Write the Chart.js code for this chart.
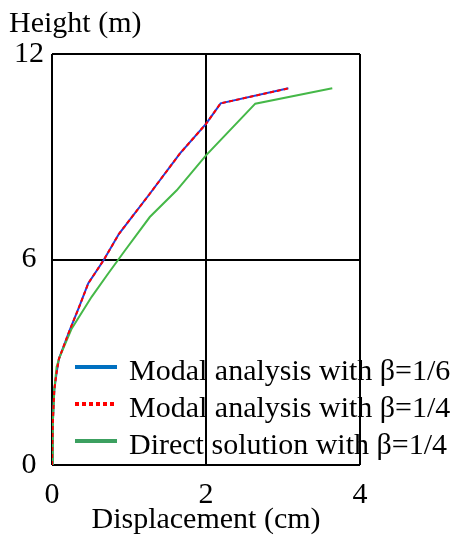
<!DOCTYPE html>
<html>
<head>
<meta charset="utf-8">
<title>Displacement profile</title>
<script src="https://cdn.jsdelivr.net/npm/chart.js@4/dist/chart.umd.min.js"></script>
<style>
  html, body { margin: 0; padding: 0; background: #fff; }
  #wrap { width: 453px; height: 538px; }
</style>
</head>
<body>
<div id="wrap"><canvas id="chart" width="453" height="538"></canvas></div>
<script>
// displacement (cm) against height (m)
const modal6X = [0, 0.01, 0.03, 0.06, 0.09, 0.23, 0.35, 0.47, 0.67, 0.87, 1.27, 1.66, 2.00, 2.19, 3.07];
const modal6Y = [0, 1.2, 2.2, 2.7, 3.1, 3.94, 4.6, 5.3, 5.98, 6.75, 7.92, 9.09, 9.96, 10.56, 11.0];
const modal4X = [0, 0.01, 0.03, 0.06, 0.09, 0.23, 0.35, 0.47, 0.67, 0.87, 1.27, 1.66, 2.00, 2.19, 3.08];
const modal4Y = [0, 1.2, 2.2, 2.7, 3.1, 3.94, 4.6, 5.3, 5.98, 6.75, 7.92, 9.09, 9.96, 10.56, 11.0];
const directX = [0, 0.01, 0.03, 0.06, 0.10, 0.255, 0.515, 0.73, 0.95, 1.27, 1.62, 2.00, 2.64, 3.64];
const directY = [0, 1.2, 2.2, 2.87, 3.16, 3.98, 4.91, 5.59, 6.27, 7.24, 8.02, 9.04, 10.55, 11.0];

const xTicks = [0, 2, 4];
const yTicks = [0, 6, 12];

const seriesNames = ['Modal analysis with β=1/6', 'Modal analysis with β=1/4', 'Direct solution with β=1/4'];
const seriesColors = ['#0070C0', '#FF0000', '#3CA060'];

const FONT = "'Liberation Serif', 'Times New Roman', serif";

function pts(xs, ys){ return xs.map((x, i) => ({ x: x, y: ys[i] })); }

// legend drawn inside the plot, overlapping the grid
const innerLegend = {
  id: 'innerLegend',
  afterDraw(chart){
    const ctx = chart.ctx;
    const a = chart.chartArea;
    const rows = [-98, -61, -24];
    ctx.save();
    ctx.font = '30px ' + FONT;
    ctx.fillStyle = '#000';
    ctx.textBaseline = 'alphabetic';
    chart.data.datasets.forEach((ds, i) => {
      const y = a.bottom + rows[i];
      ctx.beginPath();
      ctx.strokeStyle = ds.legendColor;
      ctx.lineWidth = 4;
      ctx.setLineDash(ds.borderDash || []);
      ctx.moveTo(a.left + 23, y);
      ctx.lineTo(a.left + 65, y);
      ctx.stroke();
      ctx.setLineDash([]);
      ctx.fillText(ds.label, a.left + 77, y + 13);
    });
    ctx.restore();
  }
};

new Chart(document.getElementById('chart'), {
  type: 'line',
  data: {
    datasets: [
      { label: seriesNames[0], data: pts(modal6X, modal6Y), borderColor: '#2040e0', legendColor: seriesColors[0], borderWidth: 2, order: 2 },
      { label: seriesNames[1], data: pts(modal4X, modal4Y), borderColor: seriesColors[1], legendColor: seriesColors[1], borderWidth: 2, borderDash: [4, 3], order: 0 },
      { label: seriesNames[2], data: pts(directX, directY), borderColor: '#45b848', legendColor: seriesColors[2], borderWidth: 2, order: 1 }
    ]
  },
  options: {
    responsive: false,
    animation: false,
    events: [],
    elements: { point: { radius: 0 }, line: { tension: 0 } },
    layout: { padding: { left: 9, right: 93, top: 0, bottom: 0 } },
    plugins: {
      legend: { display: false },
      tooltip: { enabled: false },
      title: {
        display: true,
        text: 'Height (m)',
        align: 'start',
        color: '#000',
        font: { family: FONT, size: 30, weight: 'normal' },
        padding: { top: 6, bottom: 12 }
      }
    },
    scales: {
      x: {
        type: 'linear',
        min: 0, max: 4,
        afterBuildTicks: s => { s.ticks = xTicks.map(v => ({ value: v })); },
        afterFit: s => { s.height = 73; },
        grid: { color: '#000', lineWidth: 2, drawTicks: false },
        border: { display: false },
        ticks: { color: '#000', padding: 12, font: { family: FONT, size: 30 } },
        title: {
          display: true, text: 'Displacement (cm)', color: '#000',
          font: { family: FONT, size: 30 }, padding: { top: 0, bottom: 0 }
        }
      },
      y: {
        type: 'linear',
        min: 0, max: 12,
        afterBuildTicks: s => { s.ticks = yTicks.map(v => ({ value: v })); },
        afterFit: s => { s.width = 43; },
        grid: { color: '#000', lineWidth: 2, drawTicks: false },
        border: { display: false },
        ticks: { color: '#000', padding: 8, crossAlign: 'center', font: { family: FONT, size: 30 } }
      }
    }
  },
  plugins: [innerLegend]
});
</script>
</body>
</html>
